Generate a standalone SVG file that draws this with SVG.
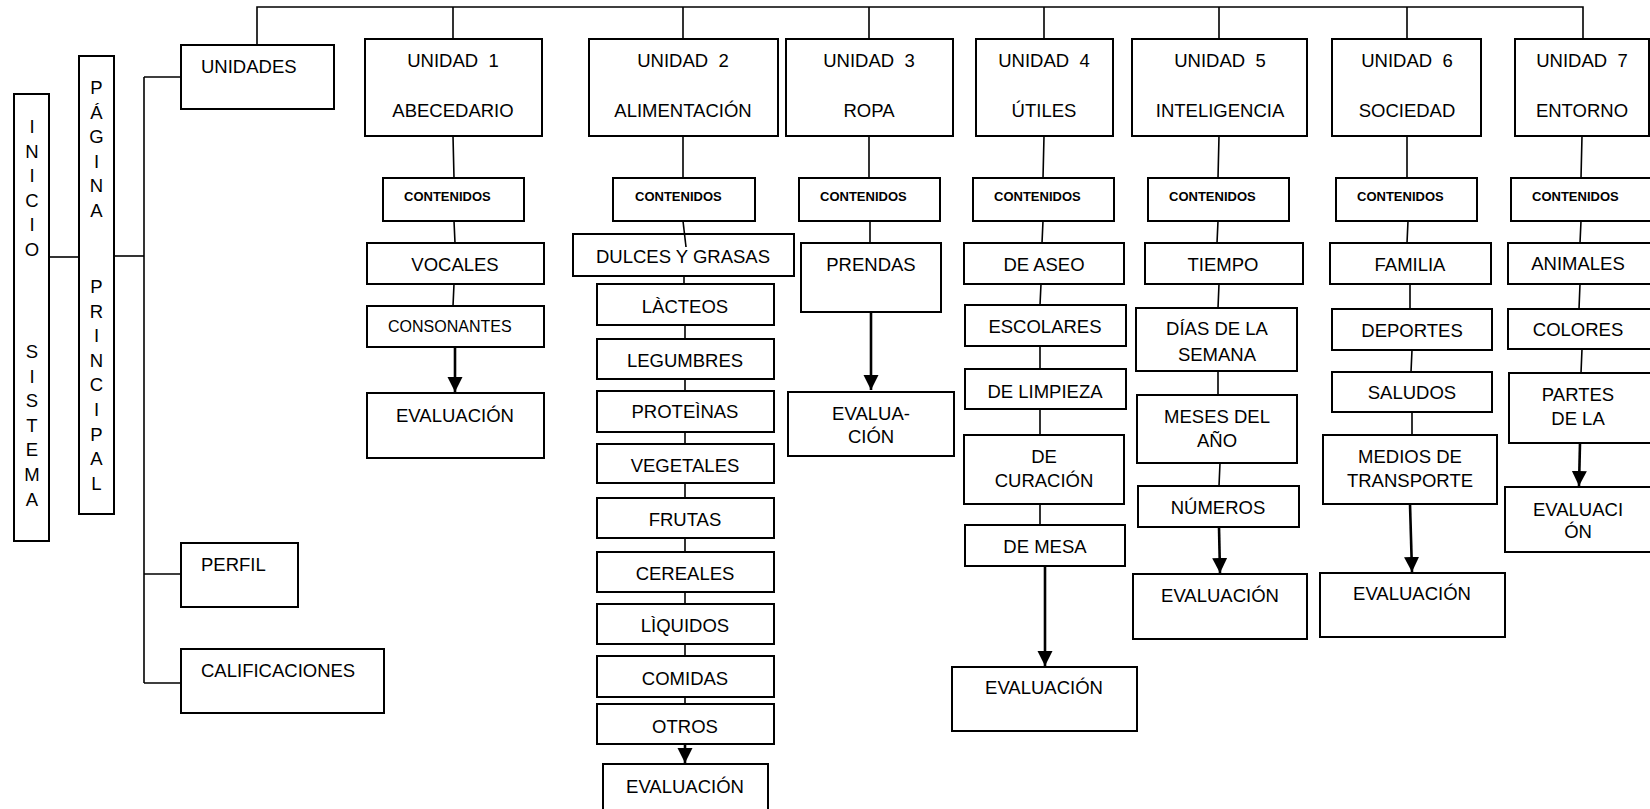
<svg xmlns="http://www.w3.org/2000/svg" width="1650" height="809" viewBox="0 0 1650 809">
  <style>
    .box { fill: #fff; stroke: #000; stroke-width: 2; }
    .t { font-family: "Liberation Sans", Arial, sans-serif; font-size: 18.5px; fill: #000; }
    .m { text-anchor: middle; }
    .sm { font-size: 16px; }
    .b { font-family: "Liberation Sans", Arial, sans-serif; font-size: 13px; font-weight: bold; fill: #000; }
    .ln { fill: none; stroke: #000; stroke-width: 1.6; }
    .ar { fill: none; stroke: #000; stroke-width: 2.6; marker-end: url(#head); }
  </style>
  <defs>
    <marker id="head" markerUnits="userSpaceOnUse" markerWidth="16" markerHeight="16" refX="15" refY="7.5" orient="auto">
      <path d="M0,0 L15,7.5 L0,15 Z" fill="#000"/>
    </marker>
  </defs>
  <rect width="1650" height="809" fill="#fff"/>

  <!-- left column: system start and main page -->
  <g id="inicio-sistema">
    <rect class="box" x="14" y="94" width="35" height="447"/>
    <g class="t m">
      <text x="32" y="133">I</text><text x="32" y="157.6">N</text><text x="32" y="182.2">I</text>
      <text x="32" y="206.8">C</text><text x="32" y="231.4">I</text><text x="32" y="256">O</text>
      <text x="32" y="358">S</text><text x="32" y="382.6">I</text><text x="32" y="407.2">S</text>
      <text x="32" y="431.8">T</text><text x="32" y="456.4">E</text><text x="32" y="481">M</text>
      <text x="32" y="505.6">A</text>
    </g>
  </g>
  <g id="pagina-principal">
    <rect class="box" x="79" y="56" width="35" height="458"/>
    <g class="t m">
      <text x="96.5" y="94">P</text><text x="96.5" y="118.6">Á</text><text x="96.5" y="143.2">G</text>
      <text x="96.5" y="167.8">I</text><text x="96.5" y="192.4">N</text><text x="96.5" y="217">A</text>
      <text x="96.5" y="293">P</text><text x="96.5" y="317.6">R</text><text x="96.5" y="342.2">I</text>
      <text x="96.5" y="366.8">N</text><text x="96.5" y="391.4">C</text><text x="96.5" y="416">I</text>
      <text x="96.5" y="440.6">P</text><text x="96.5" y="465.2">A</text><text x="96.5" y="489.8">L</text>
    </g>
  </g>
  <g id="unidades">
    <rect class="box" x="181" y="45" width="153" height="64"/>
    <text class="t" x="201" y="73">UNIDADES</text>
  </g>
  <g id="perfil">
    <rect class="box" x="181" y="543" width="117" height="64"/>
    <text class="t" x="201" y="571">PERFIL</text>
  </g>
  <g id="calificaciones">
    <rect class="box" x="181" y="649" width="203" height="64"/>
    <text class="t" x="201" y="677">CALIFICACIONES</text>
  </g>

  <!-- unit headers -->
  <g id="unidad-1">
    <rect class="box" x="365" y="39" width="177" height="97"/>
    <text class="t m" x="453" y="67" xml:space="preserve">UNIDAD  1</text>
    <text class="t m" x="453" y="117">ABECEDARIO</text>
  </g>
  <g id="unidad-2">
    <rect class="box" x="589" y="39" width="189" height="97"/>
    <text class="t m" x="683" y="67" xml:space="preserve">UNIDAD  2</text>
    <text class="t m" x="683" y="117">ALIMENTACIÓN</text>
  </g>
  <g id="unidad-3">
    <rect class="box" x="786" y="39" width="167" height="97"/>
    <text class="t m" x="869" y="67" xml:space="preserve">UNIDAD  3</text>
    <text class="t m" x="869" y="117">ROPA</text>
  </g>
  <g id="unidad-4">
    <rect class="box" x="976" y="39" width="137" height="97"/>
    <text class="t m" x="1044" y="67" xml:space="preserve">UNIDAD  4</text>
    <text class="t m" x="1044" y="117">ÚTILES</text>
  </g>
  <g id="unidad-5">
    <rect class="box" x="1132" y="39" width="175" height="97"/>
    <text class="t m" x="1220" y="67" xml:space="preserve">UNIDAD  5</text>
    <text class="t m" x="1220" y="117">INTELIGENCIA</text>
  </g>
  <g id="unidad-6">
    <rect class="box" x="1332" y="39" width="149" height="97"/>
    <text class="t m" x="1407" y="67" xml:space="preserve">UNIDAD  6</text>
    <text class="t m" x="1407" y="117">SOCIEDAD</text>
  </g>
  <g id="unidad-7">
    <rect class="box" x="1515" y="39" width="134" height="97"/>
    <text class="t m" x="1582" y="67" xml:space="preserve">UNIDAD  7</text>
    <text class="t m" x="1582" y="117">ENTORNO</text>
  </g>

  <!-- contents headers -->
  <g id="contenidos-1"><rect class="box" x="383" y="178" width="141" height="43"/><text class="b" x="404" y="201">CONTENIDOS</text></g>
  <g id="contenidos-2"><rect class="box" x="613" y="178" width="142" height="43"/><text class="b" x="635" y="201">CONTENIDOS</text></g>
  <g id="contenidos-3"><rect class="box" x="799" y="178" width="141" height="43"/><text class="b" x="820" y="201">CONTENIDOS</text></g>
  <g id="contenidos-4"><rect class="box" x="973" y="178" width="141" height="43"/><text class="b" x="994" y="201">CONTENIDOS</text></g>
  <g id="contenidos-5"><rect class="box" x="1148" y="178" width="141" height="43"/><text class="b" x="1169" y="201">CONTENIDOS</text></g>
  <g id="contenidos-6"><rect class="box" x="1336" y="178" width="141" height="43"/><text class="b" x="1357" y="201">CONTENIDOS</text></g>
  <g id="contenidos-7"><rect class="box" x="1511" y="178" width="150" height="43"/><text class="b" x="1532" y="201">CONTENIDOS</text></g>

  <!-- unit 1 topics -->
  <g id="u1-vocales"><rect class="box" x="367" y="243" width="177" height="41"/><text class="t m" x="455" y="271">VOCALES</text></g>
  <g id="u1-consonantes"><rect class="box" x="367" y="306" width="177" height="41"/><text class="t sm" x="388" y="332">CONSONANTES</text></g>
  <g id="u1-evaluacion"><rect class="box" x="367" y="393" width="177" height="65"/><text class="t" x="396" y="422">EVALUACIÓN</text></g>

  <!-- unit 2 topics -->
  <g id="u2-dulces"><rect class="box" x="573" y="234" width="221" height="42"/><text class="t m" x="683" y="263">DULCES Y GRASAS</text></g>
  <g id="u2-lacteos"><rect class="box" x="597" y="284" width="177" height="41"/><text class="t m" x="685" y="313">LÀCTEOS</text></g>
  <g id="u2-legumbres"><rect class="box" x="597" y="339" width="177" height="40"/><text class="t m" x="685" y="367">LEGUMBRES</text></g>
  <g id="u2-proteinas"><rect class="box" x="597" y="391" width="177" height="41"/><text class="t m" x="685" y="418">PROTEÌNAS</text></g>
  <g id="u2-vegetales"><rect class="box" x="597" y="444" width="177" height="39"/><text class="t m" x="685" y="472">VEGETALES</text></g>
  <g id="u2-frutas"><rect class="box" x="597" y="498" width="177" height="40"/><text class="t m" x="685" y="526">FRUTAS</text></g>
  <g id="u2-cereales"><rect class="box" x="597" y="552" width="177" height="40"/><text class="t m" x="685" y="580">CEREALES</text></g>
  <g id="u2-liquidos"><rect class="box" x="597" y="604" width="177" height="40"/><text class="t m" x="685" y="632">LÌQUIDOS</text></g>
  <g id="u2-comidas"><rect class="box" x="597" y="656" width="177" height="41"/><text class="t m" x="685" y="685">COMIDAS</text></g>
  <g id="u2-otros"><rect class="box" x="597" y="704" width="177" height="40"/><text class="t m" x="685" y="733">OTROS</text></g>
  <g id="u2-evaluacion"><rect class="box" x="603" y="764" width="165" height="70"/><text class="t m" x="685" y="793">EVALUACIÓN</text></g>

  <!-- unit 3 topics -->
  <g id="u3-prendas"><rect class="box" x="801" y="243" width="140" height="69"/><text class="t m" x="871" y="271">PRENDAS</text></g>
  <g id="u3-evaluacion"><rect class="box" x="788" y="392" width="166" height="64"/><text class="t m" x="871" y="420">EVALUA-</text><text class="t m" x="871" y="443">CIÓN</text></g>

  <!-- unit 4 topics -->
  <g id="u4-aseo"><rect class="box" x="964" y="243" width="160" height="41"/><text class="t m" x="1044" y="271">DE ASEO</text></g>
  <g id="u4-escolares"><rect class="box" x="965" y="305" width="161" height="41"/><text class="t m" x="1045" y="333">ESCOLARES</text></g>
  <g id="u4-limpieza"><rect class="box" x="965" y="369" width="161" height="40"/><text class="t m" x="1045" y="398">DE LIMPIEZA</text></g>
  <g id="u4-curacion"><rect class="box" x="964" y="435" width="160" height="69"/><text class="t m" x="1044" y="463">DE</text><text class="t m" x="1044" y="487">CURACIÓN</text></g>
  <g id="u4-mesa"><rect class="box" x="965" y="525" width="160" height="41"/><text class="t m" x="1045" y="553">DE MESA</text></g>
  <g id="u4-evaluacion"><rect class="box" x="952" y="667" width="185" height="64"/><text class="t m" x="1044" y="694">EVALUACIÓN</text></g>

  <!-- unit 5 topics -->
  <g id="u5-tiempo"><rect class="box" x="1145" y="243" width="158" height="41"/><text class="t m" x="1223" y="271">TIEMPO</text></g>
  <g id="u5-dias"><rect class="box" x="1136" y="308" width="161" height="63"/><text class="t m" x="1217" y="335">DÍAS DE LA</text><text class="t m" x="1217" y="361">SEMANA</text></g>
  <g id="u5-meses"><rect class="box" x="1137" y="395" width="160" height="68"/><text class="t m" x="1217" y="423">MESES DEL</text><text class="t m" x="1217" y="447">AÑO</text></g>
  <g id="u5-numeros"><rect class="box" x="1138" y="486" width="161" height="41"/><text class="t m" x="1218" y="514">NÚMEROS</text></g>
  <g id="u5-evaluacion"><rect class="box" x="1133" y="574" width="174" height="65"/><text class="t m" x="1220" y="602">EVALUACIÓN</text></g>

  <!-- unit 6 topics -->
  <g id="u6-familia"><rect class="box" x="1330" y="243" width="161" height="41"/><text class="t m" x="1410" y="271">FAMILIA</text></g>
  <g id="u6-deportes"><rect class="box" x="1332" y="309" width="160" height="41"/><text class="t m" x="1412" y="337">DEPORTES</text></g>
  <g id="u6-saludos"><rect class="box" x="1332" y="372" width="160" height="40"/><text class="t m" x="1412" y="399">SALUDOS</text></g>
  <g id="u6-transporte"><rect class="box" x="1323" y="435" width="174" height="69"/><text class="t m" x="1410" y="463">MEDIOS DE</text><text class="t m" x="1410" y="487">TRANSPORTE</text></g>
  <g id="u6-evaluacion"><rect class="box" x="1320" y="573" width="185" height="64"/><text class="t m" x="1412" y="600">EVALUACIÓN</text></g>

  <!-- unit 7 topics -->
  <g id="u7-animales"><rect class="box" x="1508" y="243" width="153" height="41"/><text class="t m" x="1578" y="270">ANIMALES</text></g>
  <g id="u7-colores"><rect class="box" x="1508" y="309" width="153" height="40"/><text class="t m" x="1578" y="336">COLORES</text></g>
  <g id="u7-partes"><rect class="box" x="1509" y="373" width="152" height="70"/><text class="t m" x="1578" y="401">PARTES</text><text class="t m" x="1578" y="425">DE LA</text></g>
  <g id="u7-evaluacion"><rect class="box" x="1505" y="487" width="156" height="65"/><text class="t m" x="1578" y="516">EVALUACI</text><text class="t m" x="1578" y="538">ÓN</text></g>

  <!-- connectors -->
  <g id="connectors">
    <path class="ln" d="M49,257 H79"/>
    <path class="ln" d="M114,256 H144"/>
    <path class="ln" d="M144,77 V683"/>
    <path class="ln" d="M144,77 H181 M144,574 H181 M144,683 H181"/>
    <path class="ln" d="M257,45 V7 H1583 V39"/>
    <path class="ln" d="M453,7 V39 M683,7 V39 M869,7 V39 M1044,7 V39 M1219,7 V39 M1407,7 V39"/>

    <path class="ln" d="M453,136 L454,178 M683,136 V178 M869,136 V178 M1044,136 L1043,178 M1219,136 L1218,178 M1407,136 V178 M1582,136 L1581,178"/>

    <path class="ln" d="M454,221 L455,243 M454,284 L453,306"/>
    <path class="ar" d="M455,347 V392"/>

    <path class="ln" d="M683,221 L686,247"/>
    <path class="ln" d="M684,276 V284 M685,325 V339 M685,379 V391 M685,432 V444 M685,483 V498 M685,538 V552 M685,592 V604 M685,644 V656 M685,697 V704"/>
    <path class="ar" d="M685,744 V763"/>

    <path class="ln" d="M870,221 V243"/>
    <path class="ar" d="M871,312 V390"/>

    <path class="ln" d="M1043,221 L1042,243 M1041,284 L1040,305 M1040,346 V369 M1040,409 V435 M1040,504 V525"/>
    <path class="ar" d="M1045,566 V666"/>

    <path class="ln" d="M1218,221 L1217,243 M1219,284 L1218,308 M1218,371 V395 M1220,463 L1219,486"/>
    <path class="ar" d="M1219,527 L1220,573"/>

    <path class="ln" d="M1408,221 L1407,243 M1410,284 V309 M1412,350 L1411,372 M1412,412 V435"/>
    <path class="ar" d="M1410,504 L1412,572"/>

    <path class="ln" d="M1581,221 L1580,243 M1580,284 L1579,309 M1582,349 L1581,373"/>
    <path class="ar" d="M1580,443 L1579,486"/>
  </g>
</svg>
